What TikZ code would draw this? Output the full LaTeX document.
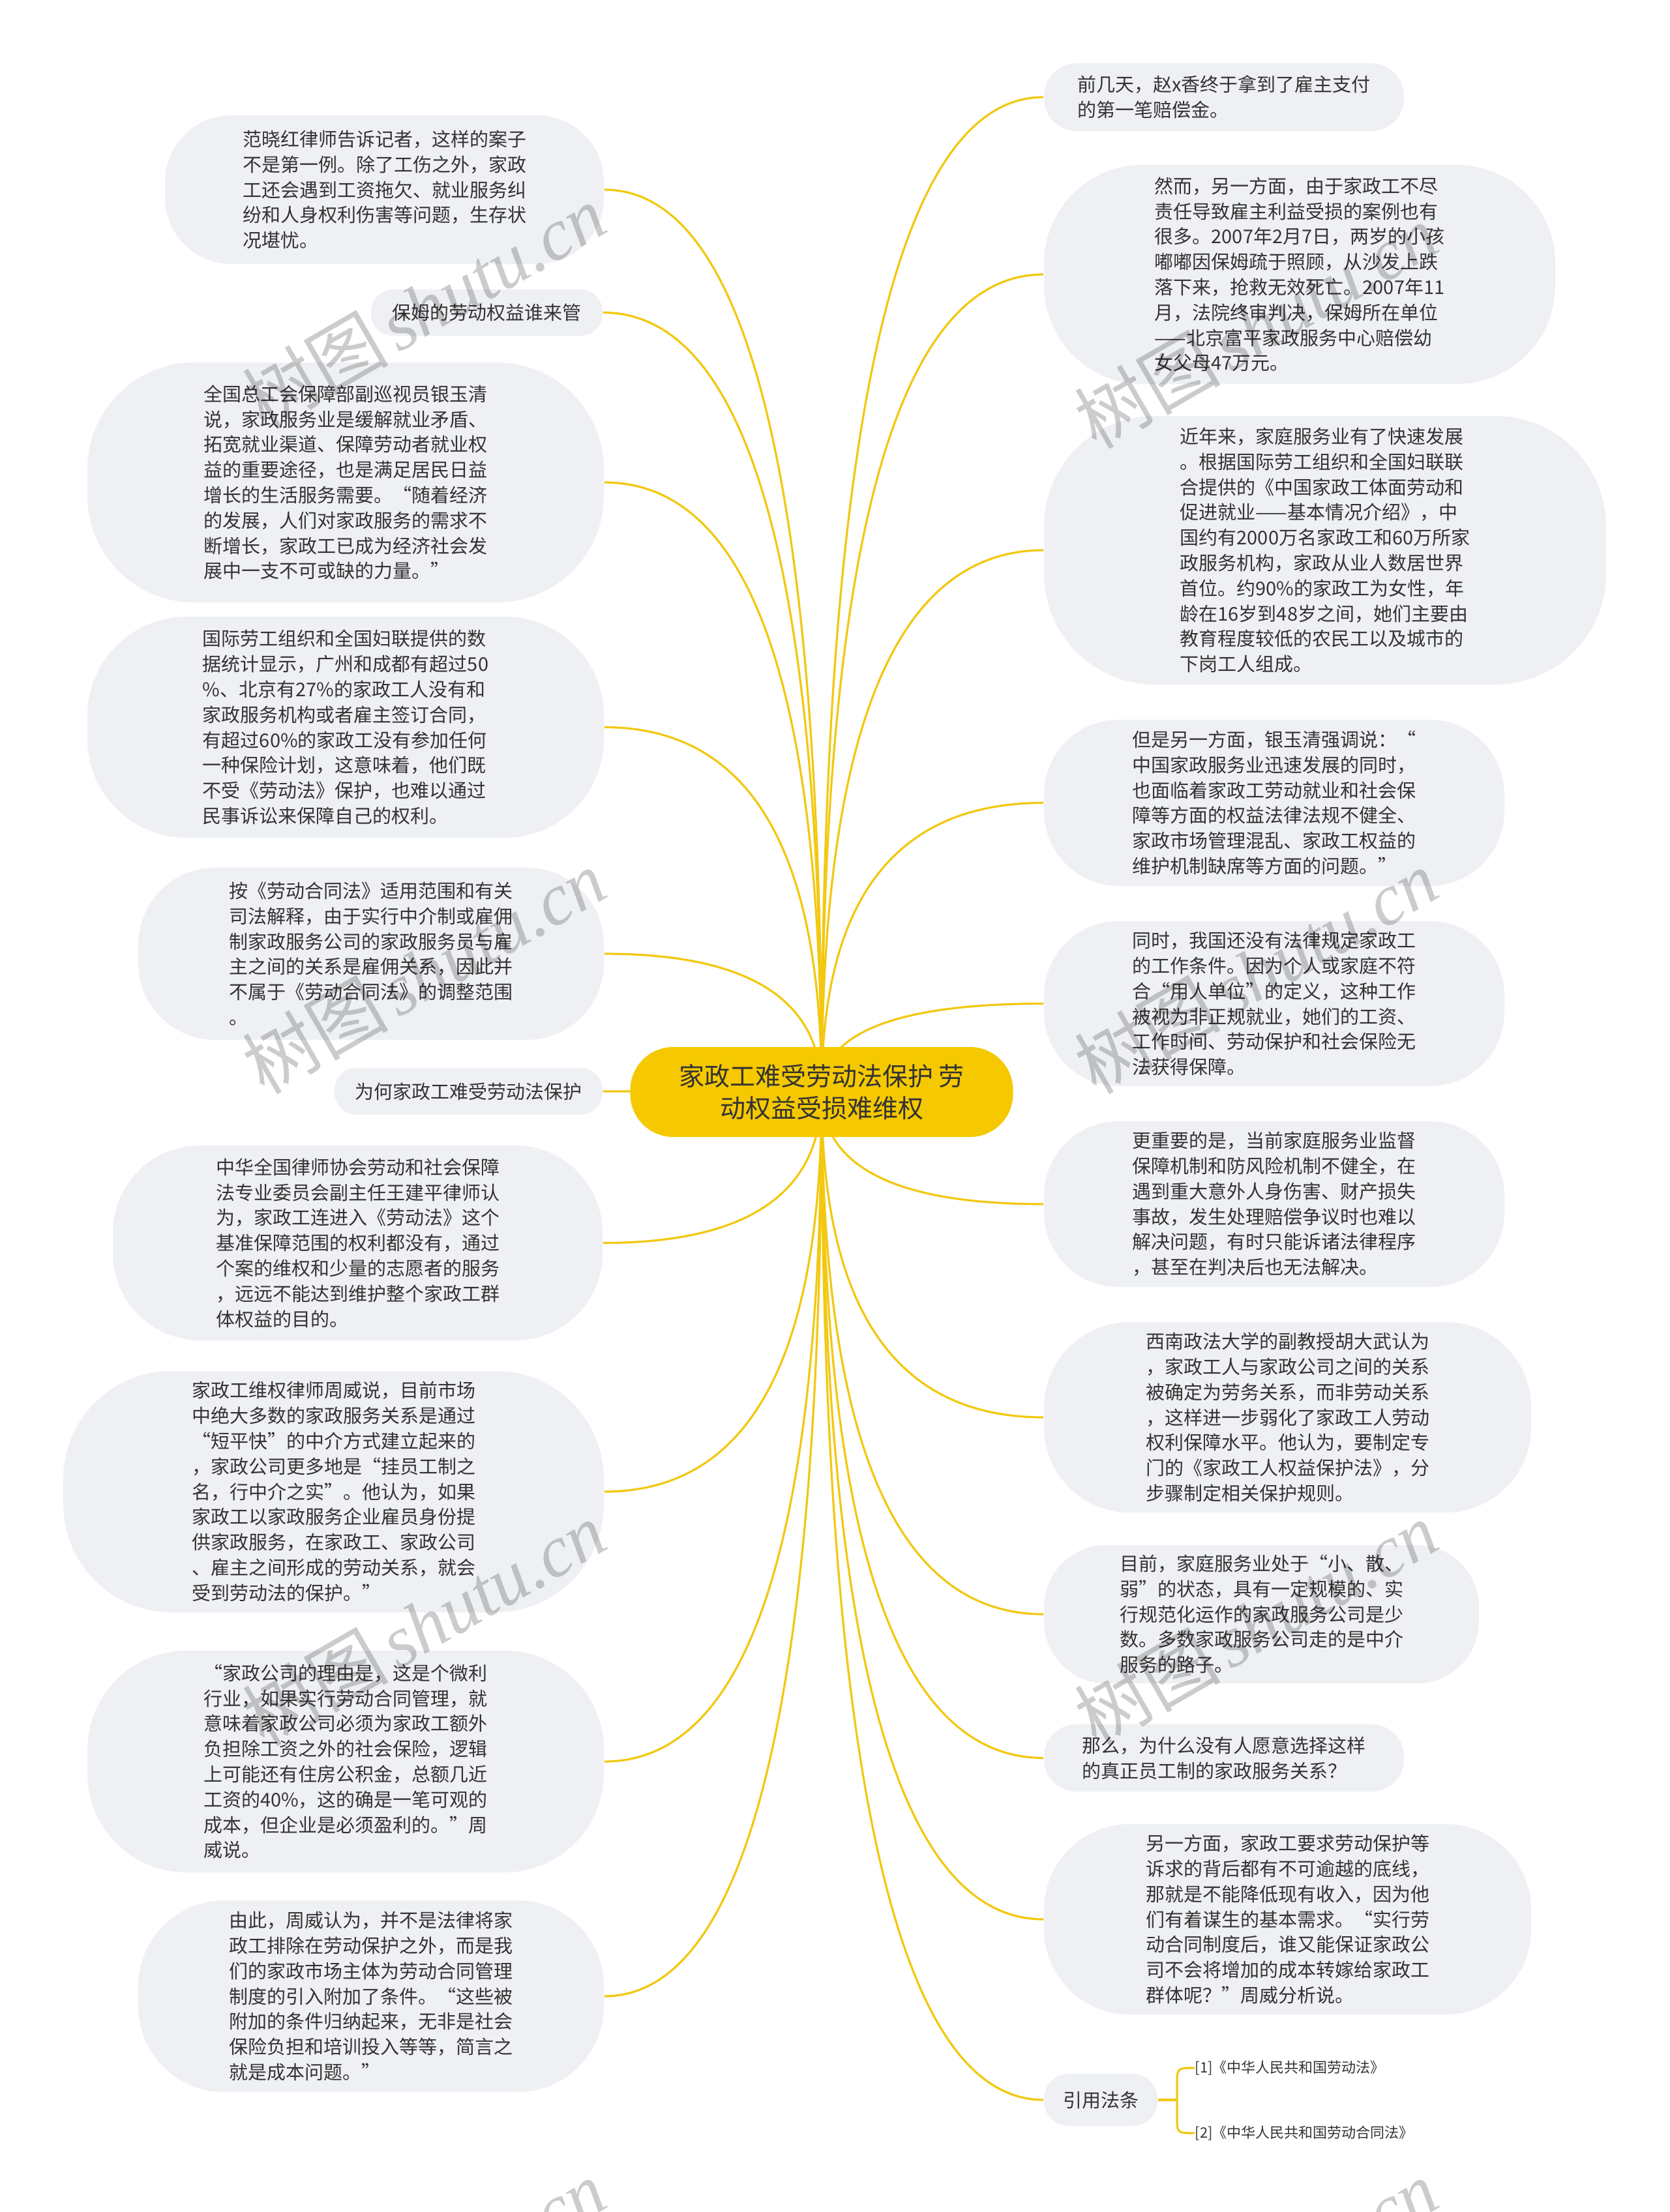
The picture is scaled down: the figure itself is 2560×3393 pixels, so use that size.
\documentclass[tikz,border=0pt]{standalone}
\usepackage{fontspec}
\usetikzlibrary{backgrounds,calc}
\newfontfamily\cjk{Noto Sans CJK SC}
\newfontfamily\wmlatin{Liberation Serif}
\definecolor{leaffill}{HTML}{EEF0F3}
\definecolor{rootfill}{HTML}{F5C800}
\definecolor{linkc}{HTML}{F2C811}
\definecolor{txt}{HTML}{333333}
\tikzset{
  leaf/.style={fill=leaffill, text=txt, align=left, inner sep=0pt,
    font=\cjk\fontsize{7.25pt}{9.7pt}\selectfont},
  rootnode/.style={fill=rootfill, text=txt, align=center, inner sep=0pt,
    font=\cjk\fontsize{9.75pt}{12.4pt}\selectfont, rounded corners=16.5pt,
    minimum width=146.75pt, minimum height=34.5pt},
  link/.style={draw=linkc, line width=0.8pt},
  lawref/.style={text=txt, inner sep=0pt, anchor=west,
    font=\cjk\fontsize{5.5pt}{7pt}\selectfont},
  wm/.style={text=black, text opacity=0.2, rotate=30, inner sep=0pt}
}
\newcommand\wmtext{{\cjk\fontsize{28pt}{30pt}\selectfont 树图}\ {\wmlatin\itshape\fontsize{28pt}{30pt}\selectfont shutu.cn}}
\begin{document}
\begin{tikzpicture}[x=0.25pt, y=-0.25pt]
\useasboundingbox (0,0) rectangle (2560,3393);

\node[rootnode] (root) at (1260,1675) {家政工难受劳动法保护 劳\\动权益受损难维权};

% left side
\node[leaf, minimum width=168.25pt, minimum height=57pt, rounded corners=25.5pt] (L1) at (589.5,291) {范晓红律师告诉记者，这样的案子\\不是第一例。除了工伤之外，家政\\工还会遇到工资拖欠、就业服务纠\\纷和人身权利伤害等问题，生存状\\况堪忧。};
\node[leaf, minimum width=88.75pt, minimum height=17.75pt, rounded corners=8.5pt] (L2) at (746.5,479.5) {保姆的劳动权益谁来管};
\node[leaf, minimum width=198pt, minimum height=92pt, rounded corners=41pt] (L3) at (530,740) {全国总工会保障部副巡视员银玉清\\说，家政服务业是缓解就业矛盾、\\拓宽就业渠道、保障劳动者就业权\\益的重要途径，也是满足居民日益\\增长的生活服务需要。“随着经济\\的发展，人们对家政服务的需求不\\断增长，家政工已成为经济社会发\\展中一支不可或缺的力量。”};
\node[leaf, minimum width=198pt, minimum height=84.75pt, rounded corners=38pt] (L4) at (530,1115.5) {国际劳工组织和全国妇联提供的数\\据统计显示，广州和成都有超过50\\\%、北京有27\%的家政工人没有和\\家政服务机构或者雇主签订合同，\\有超过60\%的家政工没有参加任何\\一种保险计划，这意味着，他们既\\不受《劳动法》保护，也难以通过\\民事诉讼来保障自己的权利。};
\node[leaf, minimum width=178.5pt, minimum height=66pt, rounded corners=29.5pt] (L5) at (569,1463) {按《劳动合同法》适用范围和有关\\司法解释，由于实行中介制或雇佣\\制家政服务公司的家政服务员与雇\\主之间的关系是雇佣关系，因此并\\不属于《劳动合同法》的调整范围\\。};
\node[leaf, minimum width=102.75pt, minimum height=18pt, rounded corners=8.5pt] (L6) at (718.5,1674) {为何家政工难受劳动法保护};
\node[leaf, minimum width=187.75pt, minimum height=74.75pt, rounded corners=33.5pt] (L7) at (548.5,1906.5) {中华全国律师协会劳动和社会保障\\法专业委员会副主任王建平律师认\\为，家政工连进入《劳动法》这个\\基准保障范围的权利都没有，通过\\个案的维权和少量的志愿者的服务\\，远远不能达到维护整个家政工群\\体权益的目的。};
\node[leaf, minimum width=207.25pt, minimum height=92.5pt, rounded corners=41.5pt] (L8) at (511.5,2288) {家政工维权律师周威说，目前市场\\中绝大多数的家政服务关系是通过\\“短平快”的中介方式建立起来的\\，家政公司更多地是“挂员工制之\\名，行中介之实”。他认为，如果\\家政工以家政服务企业雇员身份提\\供家政服务，在家政工、家政公司\\、雇主之间形成的劳动关系，就会\\受到劳动法的保护。”};
\node[leaf, minimum width=198pt, minimum height=85pt, rounded corners=38pt] (L9) at (530,2702) {“家政公司的理由是，这是个微利\\行业，如果实行劳动合同管理，就\\意味着家政公司必须为家政工额外\\负担除工资之外的社会保险，逻辑\\上可能还有住房公积金，总额几近\\工资的40\%，这的确是一笔可观的\\成本，但企业是必须盈利的。”周\\威说。};
\node[leaf, minimum width=178.5pt, minimum height=73.5pt, rounded corners=33pt] (L10) at (569,3062) {由此，周威认为，并不是法律将家\\政工排除在劳动保护之外，而是我\\们的家政市场主体为劳动合同管理\\制度的引入附加了条件。“这些被\\附加的条件归纳起来，无非是社会\\保险负担和培训投入等等，简言之\\就是成本问题。”};

% right side
\node[leaf, minimum width=138pt, minimum height=26pt, rounded corners=12.5pt] (R1) at (1877,149) {前几天，赵x香终于拿到了雇主支付\\的第一笔赔偿金。};
\node[leaf, minimum width=196pt, minimum height=84pt, rounded corners=37.8pt] (R2) at (1993,421) {然而，另一方面，由于家政工不尽\\责任导致雇主利益受损的案例也有\\很多。2007年2月7日，两岁的小孩\\嘟嘟因保姆疏于照顾，从沙发上跌\\落下来，抢救无效死亡。2007年11\\月，法院终审判决，保姆所在单位\\——北京富平家政服务中心赔偿幼\\女父母47万元。};
\node[leaf, minimum width=215.5pt, minimum height=103pt, rounded corners=42.5pt] (R3) at (2032,844) {近年来，家庭服务业有了快速发展\\。根据国际劳工组织和全国妇联联\\合提供的《中国家政工体面劳动和\\促进就业——基本情况介绍》，中\\国约有2000万名家政工和60万所家\\政服务机构，家政从业人数居世界\\首位。约90\%的家政工为女性，年\\龄在16岁到48岁之间，她们主要由\\教育程度较低的农民工以及城市的\\下岗工人组成。};
\node[leaf, minimum width=176.5pt, minimum height=63.75pt, rounded corners=28.7pt] (R4) at (1954,1231.5) {但是另一方面，银玉清强调说：“\\中国家政服务业迅速发展的同时，\\也面临着家政工劳动就业和社会保\\障等方面的权益法律法规不健全、\\家政市场管理混乱、家政工权益的\\维护机制缺席等方面的问题。”};
\node[leaf, minimum width=176.5pt, minimum height=63.25pt, rounded corners=28.5pt] (R5) at (1954,1539.5) {同时，我国还没有法律规定家政工\\的工作条件。因为个人或家庭不符\\合“用人单位”的定义，这种工作\\被视为非正规就业，她们的工资、\\工作时间、劳动保护和社会保险无\\法获得保障。};
\node[leaf, minimum width=176.5pt, minimum height=63.5pt, rounded corners=28.5pt] (R6) at (1954,1847) {更重要的是，当前家庭服务业监督\\保障机制和防风险机制不健全，在\\遇到重大意外人身伤害、财产损失\\事故，发生处理赔偿争议时也难以\\解决问题，有时只能诉诸法律程序\\，甚至在判决后也无法解决。};
\node[leaf, minimum width=186.75pt, minimum height=73pt, rounded corners=32.8pt] (R7) at (1974.5,2174) {西南政法大学的副教授胡大武认为\\，家政工人与家政公司之间的关系\\被确定为劳务关系，而非劳动关系\\，这样进一步弱化了家政工人劳动\\权利保障水平。他认为，要制定专\\门的《家政工人权益保护法》，分\\步骤制定相关保护规则。};
\node[leaf, minimum width=166.75pt, minimum height=53pt, rounded corners=23.8pt] (R8) at (1934.5,2476) {目前，家庭服务业处于“小、散、\\弱”的状态，具有一定规模的、实\\行规范化运作的家政服务公司是少\\数。多数家政服务公司走的是中介\\服务的路子。};
\node[leaf, minimum width=138pt, minimum height=25.75pt, rounded corners=12.3pt] (R9) at (1877,2696.5) {那么，为什么没有人愿意选择这样\\的真正员工制的家政服务关系？};
\node[leaf, minimum width=186.75pt, minimum height=73pt, rounded corners=32.8pt] (R10) at (1974.5,2944) {另一方面，家政工要求劳动保护等\\诉求的背后都有不可逾越的底线，\\那就是不能降低现有收入，因为他\\们有着谋生的基本需求。“实行劳\\动合同制度后，谁又能保证家政公\\司不会将增加的成本转嫁给家政工\\群体呢？”周威分析说。};
\node[leaf, minimum width=43.5pt, minimum height=20pt, rounded corners=9.5pt] (R11) at (1688,3221) {引用法条};
\node[lawref] (C1) at (1832,3172) {[1]《中华人民共和国劳动法》};
\node[lawref] (C2) at (1832,3272) {[2]《中华人民共和国劳动合同法》};

\coordinate (bmid) at (1805,3221);
\coordinate (btop) at (1805,3198);
\coordinate (bbot) at (1805,3246);

% watermarks
\node[wm] (wm1) at (650,470) {\wmtext};
\node[wm] (wm2) at (1926,500) {\wmtext};
\node[wm] (wm3) at (650,1490) {\wmtext};
\node[wm] (wm4) at (1926,1490) {\wmtext};
\node[wm] (wm5) at (650,2490) {\wmtext};
\node[wm] (wm6) at (1926,2490) {\wmtext};
\node[wm] (wm7) at (650,3500) {\wmtext};
\node[wm] (wm8) at (1926,3500) {\wmtext};

\begin{pgfonlayer}{background}
\fill[white] (0,0) rectangle (2560,3393);
\foreach \n in {L1,L2,L3,L4,L5,L6,L7,L8,L9,L10}
  \draw[link] (root.center) .. controls ($(root.center)!0.667!(root.center |- \n.east)$) and ($(\n.east)!0.667!(root.center |- \n.east)$) .. (\n.east);
\foreach \n in {R1,R2,R3,R4,R5,R6,R7,R8,R9,R10,R11}
  \draw[link] (root.center) .. controls ($(root.center)!0.667!(root.center |- \n.west)$) and ($(\n.west)!0.667!(root.center |- \n.west)$) .. (\n.west);
\draw[link] (R11.east) -- (bmid);
\draw[link] (C1.west) .. controls (btop |- C1.west) .. (btop) -- (bbot) .. controls (bbot |- C2.west) .. (C2.west);
\end{pgfonlayer}
\end{tikzpicture}
\end{document}
